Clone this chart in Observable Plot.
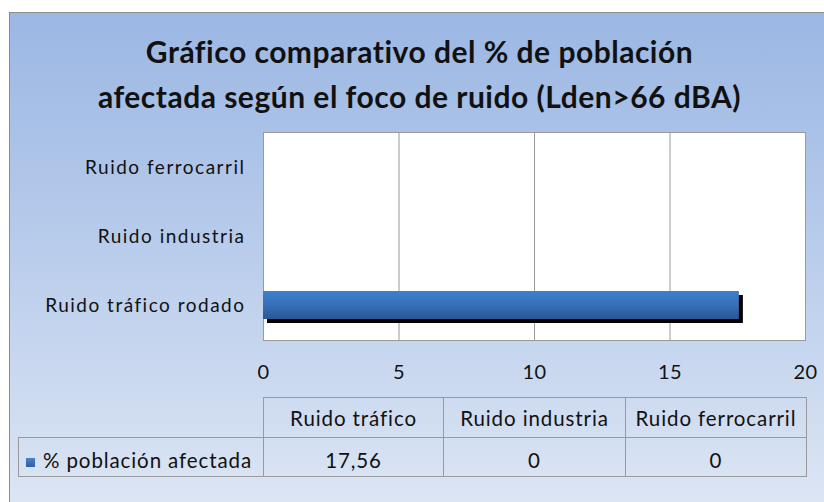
<!DOCTYPE html>
<html>
<head>
<meta charset="utf-8">
<script src="https://cdn.jsdelivr.net/npm/d3@7"></script>
<script src="https://cdn.jsdelivr.net/npm/@observablehq/plot@0.6"></script>
<style>
  html, body { margin: 0; padding: 0; background: #fff; width: 824px; height: 502px; overflow: hidden; }
  #frame { position: absolute; left: 9px; top: 12px; width: 830px; height: 500px;
    border: 1px solid #8c8c8c; box-sizing: border-box;
    background: linear-gradient(to bottom, #9bb7e3 0%, #b7cbeb 45%, #dde6f4 100%); }
  #title { position: absolute; left: 9px; width: 821px; top: 29px; text-align: center;
    font-family: Lato, sans-serif; font-weight: bold; font-size: 30px; letter-spacing: 0.5px; line-height: 45px; color: #111; }
  #chart { position: absolute; left: 0; top: 0; }
  #tbl { position: absolute; left: 18px; top: 397px; border-collapse: collapse; table-layout: fixed; width: 788px;
    font-family: Lato, sans-serif; font-size: 20.5px; color: #111; letter-spacing: 0.9px; }
  #tbl td { border: 1px solid #9a9a9a; text-align: center; padding: 0; white-space: nowrap; overflow: visible; }
  #tbl td.empty { border: none; }
  .sw { display: inline-block; width: 9px; height: 9px; background: linear-gradient(to bottom, #4a82cc, #2f5fa3); margin-left: 7px; margin-right: 8px; vertical-align: 1px; }
</style>
</head>
<body>
<div id="frame"></div>
<div id="title"></div>
<div id="chart"></div>
<table id="tbl"></table>
<script>
const titleLines = ["Gráfico comparativo del % de población", "afectada según el foco de ruido (Lden>66 dBA)"];
const categories = ["Ruido tráfico rodado", "Ruido industria", "Ruido ferrocarril"];
const tableHeaders = ["Ruido tráfico", "Ruido industria", "Ruido ferrocarril"];
const values = [17.56, 0, 0];
const seriesName = "% población afectada";
const xTicks = [0, 5, 10, 15, 20];

document.getElementById("title").innerHTML = titleLines.join("<br>");

const data = categories.map((c, i) => ({ cat: c, value: values[i] }));
const yDomain = categories.slice().reverse();

const chart = Plot.plot({
  width: 824,
  height: 390,
  marginLeft: 263,
  marginRight: 19,
  marginTop: 132,
  marginBottom: 50,
  style: { background: "transparent", fontFamily: "Lato, sans-serif", color: "#111" },
  x: { domain: [0, 20], ticks: xTicks, label: null },
  y: { domain: yDomain, label: null, paddingInner: 0.6, paddingOuter: 0.3 },
  marks: [
    Plot.frame({ fill: "white", stroke: "none" }),
    Plot.gridX(xTicks.slice(1, -1), { stroke: "#9a9a9a", strokeOpacity: 1 }),
    Plot.frame({ stroke: "#9a9a9a" }),
    Plot.barX(data.filter(d => d.value > 0), { x: "value", y: "cat", fill: "black", dx: 4, dy: 4 }),
    Plot.barX(data.filter(d => d.value > 0), { x: "value", y: "cat", fill: "url(#barGrad)" }),
    Plot.axisX({ ticks: xTicks, tickSize: 0, tickPadding: 24, fontSize: 20, label: null }),
    Plot.axisY({ tickSize: 0, tickPadding: 18, fontSize: 19, label: null })
  ]
});

const svgNS = "http://www.w3.org/2000/svg";
const defs = document.createElementNS(svgNS, "defs");
defs.innerHTML = '<linearGradient id="barGrad" x1="0" y1="0" x2="0" y2="1">' +
  '<stop offset="0" stop-color="#3f7fcd"/><stop offset="0.5" stop-color="#3670b8"/><stop offset="1" stop-color="#2a5795"/></linearGradient>';
chart.insertBefore(defs, chart.firstChild);
chart.querySelectorAll("g[aria-label='y-axis tick label'] text").forEach(t => t.setAttribute("letter-spacing", "1.5"));
chart.querySelectorAll("g[aria-label='x-axis tick label'] text").forEach(t => t.setAttribute("letter-spacing", "0.5"));
document.getElementById("chart").appendChild(chart);

const fmt = v => String(v).replace(".", ",");
const tbl = document.getElementById("tbl");
const widths = [245, 180, 182, 181];
let html = '<colgroup>' + widths.map(w => '<col style="width:' + w + 'px">').join("") + '</colgroup>';
html += '<tr style="height:40px"><td class="empty"></td>';
tableHeaders.forEach(h => { html += '<td>' + h + '</td>'; });
html += '</tr><tr style="height:39px"><td style="text-align:left;padding-top:6px"><span class="sw"></span>' + seriesName + '</td>';
values.forEach(v => { html += '<td style="padding-top:6px">' + fmt(v) + '</td>'; });
html += '</tr>';
tbl.innerHTML = html;
</script>
</body>
</html>
